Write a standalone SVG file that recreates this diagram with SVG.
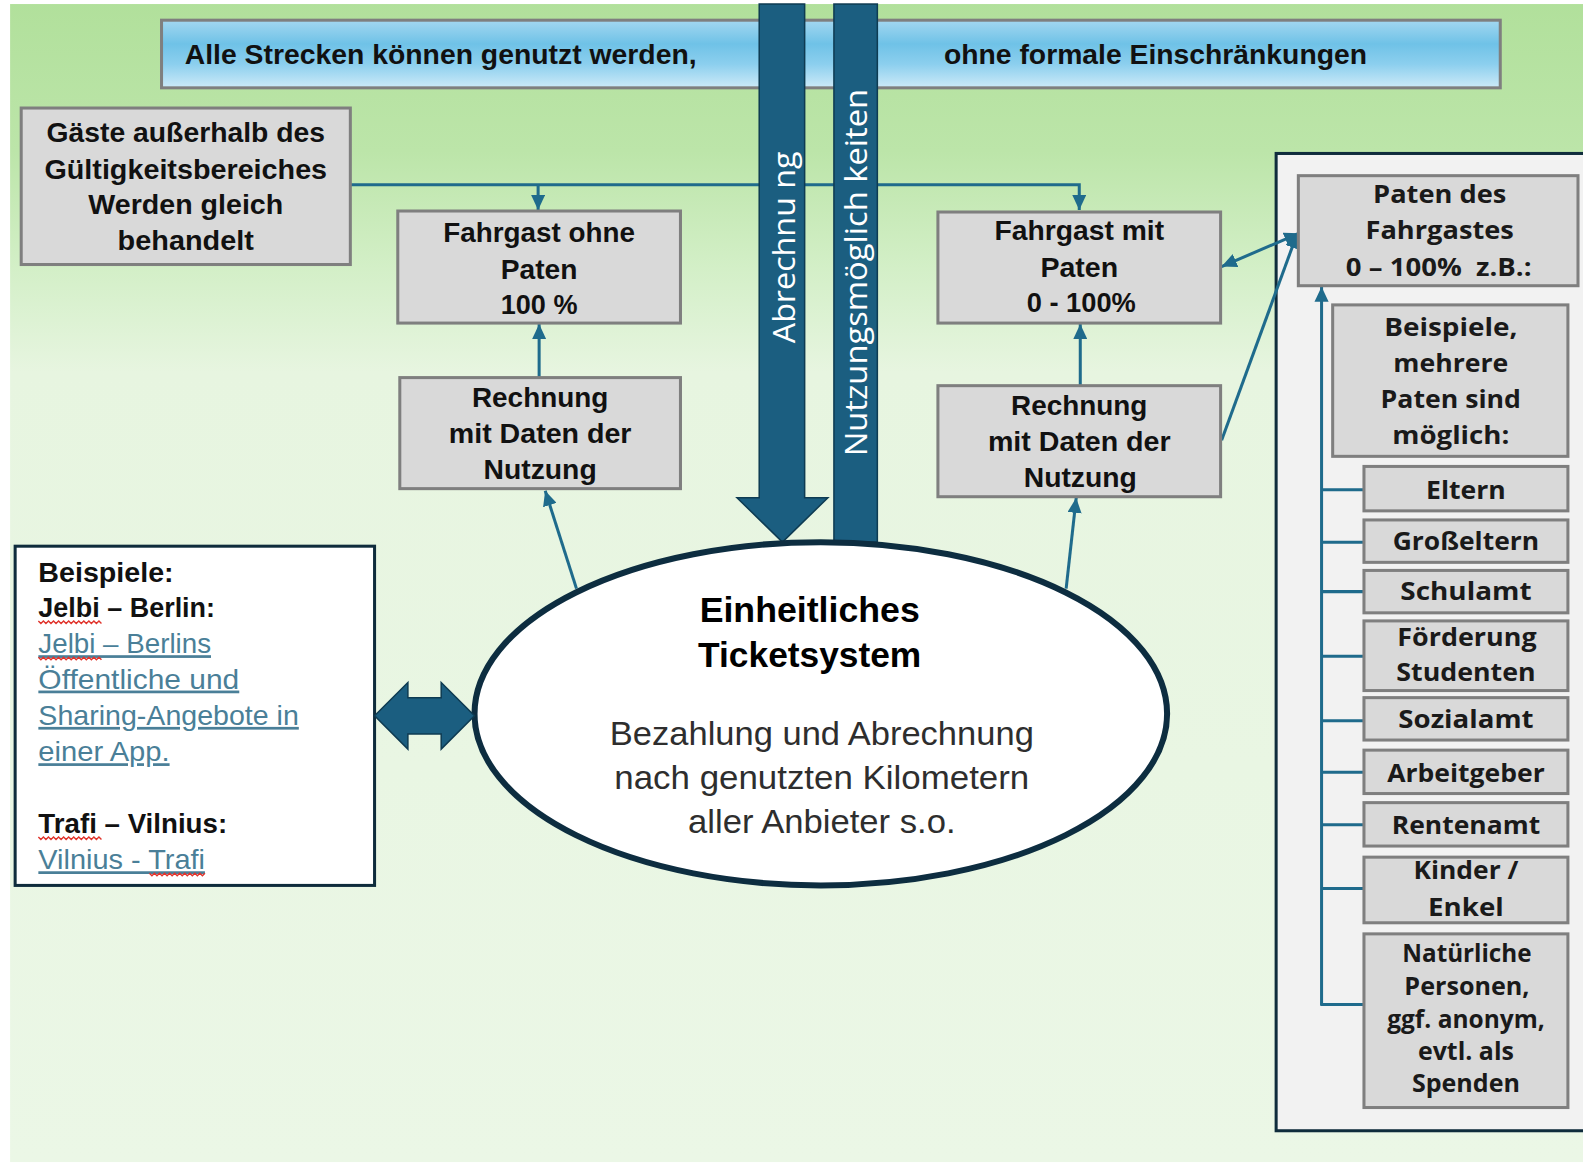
<svg xmlns="http://www.w3.org/2000/svg" width="1583" height="1163" viewBox="0 0 1583 1163">
  <style>
    .box { fill: #d9d9d9; stroke: #7f7f7f; stroke-width: 3; }
    .frame { stroke: #0f2c3c; stroke-width: 3; }
    .bar { fill: #1b5e80; stroke: #0e3b52; stroke-width: 1.5; }
    .n { font-family: "Liberation Sans Narrow", "Liberation Sans", Arial, sans-serif; font-weight: 700; font-size: 27px; fill: #111; text-anchor: middle; }
    .nl { font-family: "Liberation Sans Narrow", "Liberation Sans", Arial, sans-serif; font-weight: 700; font-size: 27px; fill: #111; }
    .lnk { font-weight: 400; fill: #4a7f98; text-decoration: underline; }
    .w { font-family: "Open Sans", "Liberation Sans", Arial, sans-serif; font-weight: 700; font-size: 24px; fill: #1a1a1a; text-anchor: middle; }
    .vt { font-family: "Open Sans", "Liberation Sans", Arial, sans-serif; font-weight: 400; font-size: 31px; fill: #ffffff; text-anchor: middle; }
    .eh { font-family: "Liberation Sans Narrow", "Liberation Sans", Arial, sans-serif; font-weight: 700; font-size: 34px; fill: #000; text-anchor: middle; }
    .es { font-family: "Liberation Sans Narrow", "Liberation Sans", Arial, sans-serif; font-weight: 400; font-size: 33px; fill: #2e2e2e; text-anchor: middle; }
    .conn { fill: none; stroke: #1f6b8c; stroke-width: 3; }
    .wave { fill: none; stroke: #e0342c; stroke-width: 1.4; }
  </style>
  <defs>
    <linearGradient id="bg" x1="0" y1="0" x2="0" y2="1152" gradientUnits="userSpaceOnUse">
      <stop offset="0" stop-color="#b1e09b"/>
      <stop offset="0.13" stop-color="#bce5a9"/>
      <stop offset="0.23" stop-color="#d3efc7"/>
      <stop offset="0.32" stop-color="#e7f5e0"/>
      <stop offset="1" stop-color="#ebf7e6"/>
    </linearGradient>
    <linearGradient id="banner" x1="0" y1="0" x2="0" y2="1">
      <stop offset="0" stop-color="#a3d7f0"/>
      <stop offset="0.35" stop-color="#6fc2e7"/>
      <stop offset="0.65" stop-color="#8ccfee"/>
      <stop offset="1" stop-color="#cdeaf8"/>
    </linearGradient>
    <marker id="ah" markerUnits="userSpaceOnUse" markerWidth="15" markerHeight="14" refX="15" refY="7" orient="auto-start-reverse">
      <path d="M0,0 L15,7 L0,14 Z" fill="#1f6b8c"/>
    </marker>
  </defs>

  <g transform="scale(1.0096)">
    <!-- background -->
    <rect x="10" y="4" width="1560" height="1147" fill="url(#bg)"/>

    <!-- top banner -->
    <g id="banner-strecken">
      <rect x="160" y="20" width="1326" height="67" fill="url(#banner)" stroke="#7f7f7f" stroke-width="3"/>
      <text class="nl" x="183" y="63" font-size="26" textLength="507" lengthAdjust="spacingAndGlyphs">Alle Strecken können genutzt werden,</text>
      <text class="nl" x="935" y="63" font-size="26" textLength="419" lengthAdjust="spacingAndGlyphs">ohne formale Einschränkungen</text>
    </g>

    <!-- sponsor panel frame -->
    <g id="paten-panel">
      <rect class="frame" x="1264" y="152" width="320" height="968" fill="#f2f2f2"/>
    </g>

    <!-- connectors -->
    <g id="connectors">
      <path class="conn" d="M347,183 H1069 V208" marker-end="url(#ah)"/>
      <path class="conn" d="M533,183 V208" marker-end="url(#ah)"/>
      <path class="conn" d="M534,374 V321" marker-end="url(#ah)"/>
      <path class="conn" d="M571,583 L540,486" marker-end="url(#ah)"/>
      <path class="conn" d="M1070,382 V321" marker-end="url(#ah)"/>
      <path class="conn" d="M1056,583 L1066,493" marker-end="url(#ah)"/>
      <path class="conn" d="M1210,264 L1287,231" marker-start="url(#ah)" marker-end="url(#ah)"/>
      <path class="conn" d="M1210,436 L1285,231" marker-end="url(#ah)"/>
      <path class="conn" d="M1309,996 V284" marker-end="url(#ah)"/>
      <path class="conn" d="M1309,485 H1350 M1309,537 H1350 M1309,586 H1350 M1309,650 H1350 M1309,714 H1350 M1309,765 H1350 M1309,817 H1350 M1309,880 H1350 M1308,995 H1350"/>
    </g>

    <!-- vertical flow bars -->
    <g id="bar-abrechnung">
      <path class="bar" d="M752,4 L797,4 L797,493 L820,493 L775,537 L730,493 L752,493 Z"/>
      <text class="vt" transform="translate(787,245) rotate(-90)" textLength="190" lengthAdjust="spacingAndGlyphs">Abrechnu ng</text>
    </g>
    <g id="bar-nutzung">
      <rect class="bar" x="826" y="4" width="43" height="533"/>
      <text class="vt" transform="translate(859,270) rotate(-90)" textLength="364" lengthAdjust="spacingAndGlyphs">Nutzungsmöglich keiten</text>
    </g>

    <!-- left column nodes -->
    <g id="gaeste">
      <rect class="box" x="21" y="107" width="326" height="155"/>
      <text class="n" x="184" y="141" textLength="276" lengthAdjust="spacingAndGlyphs">Gäste außerhalb des</text>
      <text class="n" x="184" y="177" textLength="280" lengthAdjust="spacingAndGlyphs">Gültigkeitsbereiches</text>
      <text class="n" x="184" y="212" textLength="193" lengthAdjust="spacingAndGlyphs">Werden gleich</text>
      <text class="n" x="184" y="248" textLength="135" lengthAdjust="spacingAndGlyphs">behandelt</text>
    </g>
    <g id="fahrgast-ohne">
      <rect class="box" x="394" y="209" width="280" height="111"/>
      <text class="n" x="534" y="240" textLength="190" lengthAdjust="spacingAndGlyphs">Fahrgast ohne</text>
      <text class="n" x="534" y="276" textLength="76" lengthAdjust="spacingAndGlyphs">Paten</text>
      <text class="n" x="534" y="311" textLength="76" lengthAdjust="spacingAndGlyphs">100 %</text>
    </g>
    <g id="rechnung-ohne">
      <rect class="box" x="396" y="374" width="278" height="110"/>
      <text class="n" x="535" y="403" textLength="135" lengthAdjust="spacingAndGlyphs">Rechnung</text>
      <text class="n" x="535" y="439" textLength="181" lengthAdjust="spacingAndGlyphs">mit Daten der</text>
      <text class="n" x="535" y="474" textLength="112" lengthAdjust="spacingAndGlyphs">Nutzung</text>
    </g>
    <g id="fahrgast-mit">
      <rect class="box" x="929" y="210" width="280" height="110"/>
      <text class="n" x="1069" y="238" textLength="168" lengthAdjust="spacingAndGlyphs">Fahrgast mit</text>
      <text class="n" x="1069" y="274" textLength="77" lengthAdjust="spacingAndGlyphs">Paten</text>
      <text class="n" x="1071" y="309" textLength="108" lengthAdjust="spacingAndGlyphs">0 - 100%</text>
    </g>
    <g id="rechnung-mit">
      <rect class="box" x="929" y="382" width="280" height="110"/>
      <text class="n" x="1069" y="411" textLength="135" lengthAdjust="spacingAndGlyphs">Rechnung</text>
      <text class="n" x="1069" y="447" textLength="181" lengthAdjust="spacingAndGlyphs">mit Daten der</text>
      <text class="n" x="1070" y="482" textLength="112" lengthAdjust="spacingAndGlyphs">Nutzung</text>
    </g>

    <!-- central ticket system -->
    <g id="ticketsystem">
      <ellipse cx="813" cy="707" rx="343" ry="170" fill="#ffffff" stroke="#0d2d40" stroke-width="6"/>
      <text class="eh" x="802" y="616" textLength="218" lengthAdjust="spacingAndGlyphs">Einheitliches</text>
      <text class="eh" x="802" y="661" textLength="221" lengthAdjust="spacingAndGlyphs">Ticketsystem</text>
      <text class="es" x="814" y="738" textLength="420" lengthAdjust="spacingAndGlyphs">Bezahlung und Abrechnung</text>
      <text class="es" x="814" y="782" textLength="411" lengthAdjust="spacingAndGlyphs">nach genutzten Kilometern</text>
      <text class="es" x="814" y="825" textLength="265" lengthAdjust="spacingAndGlyphs">aller Anbieter s.o.</text>
    </g>

    <!-- examples box -->
    <g id="beispiele-apps">
      <rect class="frame" x="15" y="541" width="356" height="336" fill="#ffffff"/>
      <text class="nl" x="38" y="576" textLength="134" lengthAdjust="spacingAndGlyphs">Beispiele:</text>
      <text class="nl" x="38" y="611" textLength="175" lengthAdjust="spacingAndGlyphs">Jelbi – Berlin:</text>
      <text class="nl lnk" x="38" y="647" textLength="171" lengthAdjust="spacingAndGlyphs">Jelbi – Berlins</text>
      <text class="nl lnk" x="38" y="682" textLength="199" lengthAdjust="spacingAndGlyphs">Öffentliche und</text>
      <text class="nl lnk" x="38" y="718" textLength="258" lengthAdjust="spacingAndGlyphs">Sharing-Angebote in</text>
      <text class="nl lnk" x="38" y="754" textLength="130" lengthAdjust="spacingAndGlyphs">einer App.</text>
      <text class="nl" x="38" y="825" textLength="187" lengthAdjust="spacingAndGlyphs">Trafi – Vilnius:</text>
      <text class="nl lnk" x="38" y="861" textLength="165" lengthAdjust="spacingAndGlyphs">Vilnius - Trafi</text>
      <!-- spell-check marks -->
      <path class="wave" d="M38,615 l2.5,2.5 2.5,-2.5 2.5,2.5 2.5,-2.5 2.5,2.5 2.5,-2.5 2.5,2.5 2.5,-2.5 2.5,2.5 2.5,-2.5 2.5,2.5 2.5,-2.5 2.5,2.5 2.5,-2.5 2.5,2.5 2.5,-2.5 2.5,2.5 2.5,-2.5 2.5,2.5 2.5,-2.5 2.5,2.5 2.5,-2.5 2.5,2.5 2.5,-2.5 2.5,2.5"/>
      <path class="wave" d="M38,651 l2.5,2.5 2.5,-2.5 2.5,2.5 2.5,-2.5 2.5,2.5 2.5,-2.5 2.5,2.5 2.5,-2.5 2.5,2.5 2.5,-2.5 2.5,2.5 2.5,-2.5 2.5,2.5 2.5,-2.5 2.5,2.5 2.5,-2.5 2.5,2.5 2.5,-2.5 2.5,2.5 2.5,-2.5 2.5,2.5 2.5,-2.5 2.5,2.5 2.5,-2.5 2.5,2.5"/>
      <path class="wave" d="M38,829 l2.5,2.5 2.5,-2.5 2.5,2.5 2.5,-2.5 2.5,2.5 2.5,-2.5 2.5,2.5 2.5,-2.5 2.5,2.5 2.5,-2.5 2.5,2.5 2.5,-2.5 2.5,2.5 2.5,-2.5 2.5,2.5 2.5,-2.5 2.5,2.5 2.5,-2.5 2.5,2.5 2.5,-2.5 2.5,2.5 2.5,-2.5 2.5,2.5 2.5,-2.5 2.5,2.5"/>
      <path class="wave" d="M148,865 l2.5,2.5 2.5,-2.5 2.5,2.5 2.5,-2.5 2.5,2.5 2.5,-2.5 2.5,2.5 2.5,-2.5 2.5,2.5 2.5,-2.5 2.5,2.5 2.5,-2.5 2.5,2.5 2.5,-2.5 2.5,2.5 2.5,-2.5 2.5,2.5 2.5,-2.5 2.5,2.5 2.5,-2.5 2.5,2.5 2.5,-2.5"/>
    </g>

    <!-- exchange arrow between examples and ticket system -->
    <g id="austausch">
      <path d="M371,709 L404,676 L404,691 L437,691 L437,676 L470,709 L437,742 L437,727 L404,727 L404,742 Z" fill="#1b5e80" stroke="#0e3b52" stroke-width="1.5"/>
    </g>

    <!-- sponsors -->
    <g id="paten-des-fahrgastes">
      <rect class="box" x="1286" y="174" width="277" height="109"/>
      <text class="w" x="1426" y="201" textLength="132" lengthAdjust="spacingAndGlyphs">Paten des</text>
      <text class="w" x="1426" y="237" textLength="147" lengthAdjust="spacingAndGlyphs">Fahrgastes</text>
      <text class="w" x="1425" y="273" textLength="184" lengthAdjust="spacingAndGlyphs" xml:space="preserve">0 – 100%  z.B.:</text>
    </g>
    <g id="mehrere-paten">
      <rect class="box" x="1320" y="302" width="233" height="150"/>
      <text class="w" x="1437" y="333" textLength="132" lengthAdjust="spacingAndGlyphs">Beispiele,</text>
      <text class="w" x="1437" y="368" textLength="114" lengthAdjust="spacingAndGlyphs">mehrere</text>
      <text class="w" x="1437" y="404" textLength="139" lengthAdjust="spacingAndGlyphs">Paten sind</text>
      <text class="w" x="1437" y="440" textLength="116" lengthAdjust="spacingAndGlyphs">möglich:</text>
    </g>
    <g id="eltern">
      <rect class="box" x="1351" y="462" width="202" height="44"/>
      <text class="w" x="1452" y="494" textLength="79" lengthAdjust="spacingAndGlyphs">Eltern</text>
    </g>
    <g id="grosseltern">
      <rect class="box" x="1351" y="515" width="202" height="42"/>
      <text class="w" x="1452" y="545" textLength="145" lengthAdjust="spacingAndGlyphs">Großeltern</text>
    </g>
    <g id="schulamt">
      <rect class="box" x="1351" y="565" width="202" height="42"/>
      <text class="w" x="1452" y="594" textLength="130" lengthAdjust="spacingAndGlyphs">Schulamt</text>
    </g>
    <g id="foerderung-studenten">
      <rect class="box" x="1351" y="615" width="202" height="69"/>
      <text class="w" x="1453" y="640" textLength="138" lengthAdjust="spacingAndGlyphs">Förderung</text>
      <text class="w" x="1452" y="675" textLength="138" lengthAdjust="spacingAndGlyphs">Studenten</text>
    </g>
    <g id="sozialamt">
      <rect class="box" x="1351" y="691" width="202" height="42"/>
      <text class="w" x="1452" y="721" textLength="134" lengthAdjust="spacingAndGlyphs">Sozialamt</text>
    </g>
    <g id="arbeitgeber">
      <rect class="box" x="1351" y="743" width="202" height="43"/>
      <text class="w" x="1452" y="775" textLength="156" lengthAdjust="spacingAndGlyphs">Arbeitgeber</text>
    </g>
    <g id="rentenamt">
      <rect class="box" x="1351" y="795" width="202" height="43"/>
      <text class="w" x="1452" y="826" textLength="147" lengthAdjust="spacingAndGlyphs">Rentenamt</text>
    </g>
    <g id="kinder-enkel">
      <rect class="box" x="1351" y="849" width="202" height="65"/>
      <text class="w" x="1452" y="871" textLength="104" lengthAdjust="spacingAndGlyphs">Kinder /</text>
      <text class="w" x="1452" y="907" textLength="75" lengthAdjust="spacingAndGlyphs">Enkel</text>
    </g>
    <g id="natuerliche-personen">
      <rect class="box" x="1351" y="925" width="202" height="172"/>
      <text class="w" x="1453" y="953" textLength="128" lengthAdjust="spacingAndGlyphs">Natürliche</text>
      <text class="w" x="1453" y="986" textLength="124" lengthAdjust="spacingAndGlyphs">Personen,</text>
      <text class="w" x="1452" y="1018" textLength="156" lengthAdjust="spacingAndGlyphs">ggf. anonym,</text>
      <text class="w" x="1452" y="1050" textLength="95" lengthAdjust="spacingAndGlyphs">evtl. als</text>
      <text class="w" x="1452" y="1082" textLength="107" lengthAdjust="spacingAndGlyphs">Spenden</text>
    </g>
  </g>
</svg>
